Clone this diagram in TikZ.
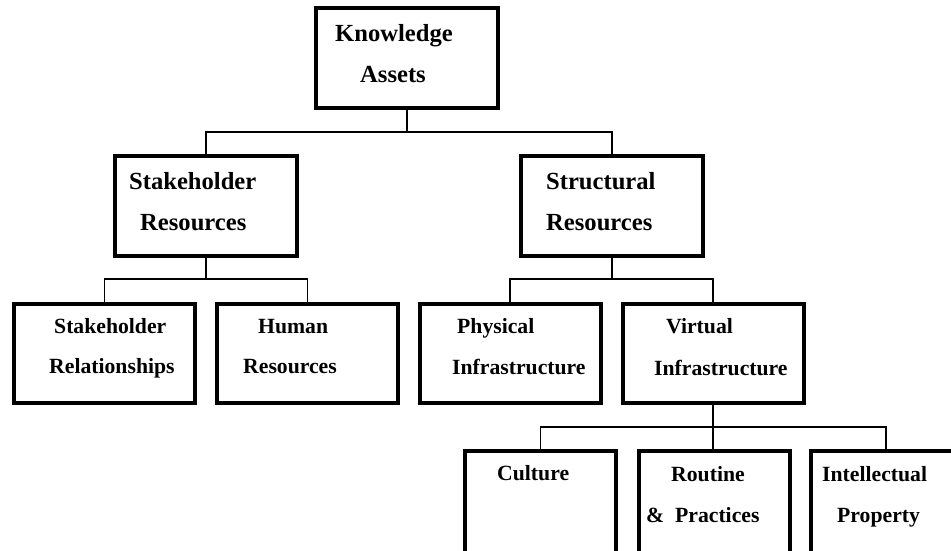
\documentclass[tikz,border=0pt]{standalone}
\usepackage{fontspec}
\setmainfont{Liberation Serif}
\begin{document}
\begin{tikzpicture}[x=1pt,y=-1pt,
  box/.style={draw=black,line width=4pt,rectangle,inner sep=0pt,fill=white},
  topbox/.style={box,minimum width=182pt,minimum height=100pt},
  midbox/.style={box,minimum width=181pt,minimum height=99pt},
  leafbox/.style={box,minimum width=151pt,minimum height=129pt},
  conn/.style={draw=black,line width=1.3pt},
  bigtxt/.style={anchor=base west,inner sep=0pt,font=\fontsize{24.6}{28}\selectfont\bfseries},
  smalltxt/.style={anchor=base west,inner sep=0pt,font=\fontsize{21.7}{25}\selectfont\bfseries}]
\useasboundingbox (0,0) rectangle (951,551);
\clip (0,0) rectangle (951,551);

% boxes
\node[topbox] (ka)  at (407,58)  {};
\node[topbox] (sr)  at (206,206) {};
\node[topbox] (st)  at (612,206) {};
\node[midbox] (rel) at (104.5,353.5) {};
\node[midbox] (hr)  at (307.5,353.5) {};
\node[midbox] (phy) at (510,353.5) {};
\node[midbox] (vir) at (713,353.5) {};
\node[leafbox] (cul) at (540.5,515.5) {};
\node[leafbox] (rou) at (714.5,515.5) {};
\node[leafbox] (ip)  at (886,515.5) {};

% junctions of the tree
\coordinate (j1) at (407,132);
\coordinate (j2) at (206,279);
\coordinate (j3) at (612,279);
\coordinate (j4) at (713,427);

% connectors
\draw[conn] (ka.south) -- (j1);
\draw[conn] (sr.north) |- (j1) -| (st.north);
\draw[conn] (sr.south) -- (j2);
\draw[conn] (rel.north) |- (j2) -| (hr.north);
\draw[conn] (st.south) -- (j3);
\draw[conn] (phy.north) |- (j3) -| (vir.north);
\draw[conn] (vir.south) -- (j4);
\draw[conn] (cul.north) |- (j4) -| (ip.north);
\draw[conn] (j4) -- (rou.north -| j4);

% labels
\node[bigtxt] (ka1) at (335,42) {Knowledge};
\node[bigtxt] (ka2) at (360,83) {Assets};
\node[bigtxt] (sr1) at (129,189) {Stakeholder};
\node[bigtxt] (sr2) at (140,230) {Resources};
\node[bigtxt] (st1) at (546,189) {Structural};
\node[bigtxt] (st2) at (546,230) {Resources};
\node[smalltxt] (rel1) at (54,333) {Stakeholder};
\node[smalltxt] (rel2) at (49,373) {Relationships};
\node[smalltxt] (hr1) at (258,333) {Human};
\node[smalltxt] (hr2) at (243,373) {Resources};
\node[smalltxt] (phy1) at (457,333) {Physical};
\node[smalltxt] (phy2) at (452,374) {Infrastructure};
\node[smalltxt] (vir1) at (666,333) {Virtual};
\node[smalltxt] (vir2) at (654,375) {Infrastructure};
\node[smalltxt] (cul1) at (497,480) {Culture};
\node[smalltxt] (rou1) at (671,481) {Routine};
\node[smalltxt] (rou2) at (646,522) {\&\hspace{0.5em}Practices};
\node[smalltxt] (ip1) at (822,481) {Intellectual};
\node[smalltxt] (ip2) at (837,522) {Property};
\end{tikzpicture}
\end{document}
